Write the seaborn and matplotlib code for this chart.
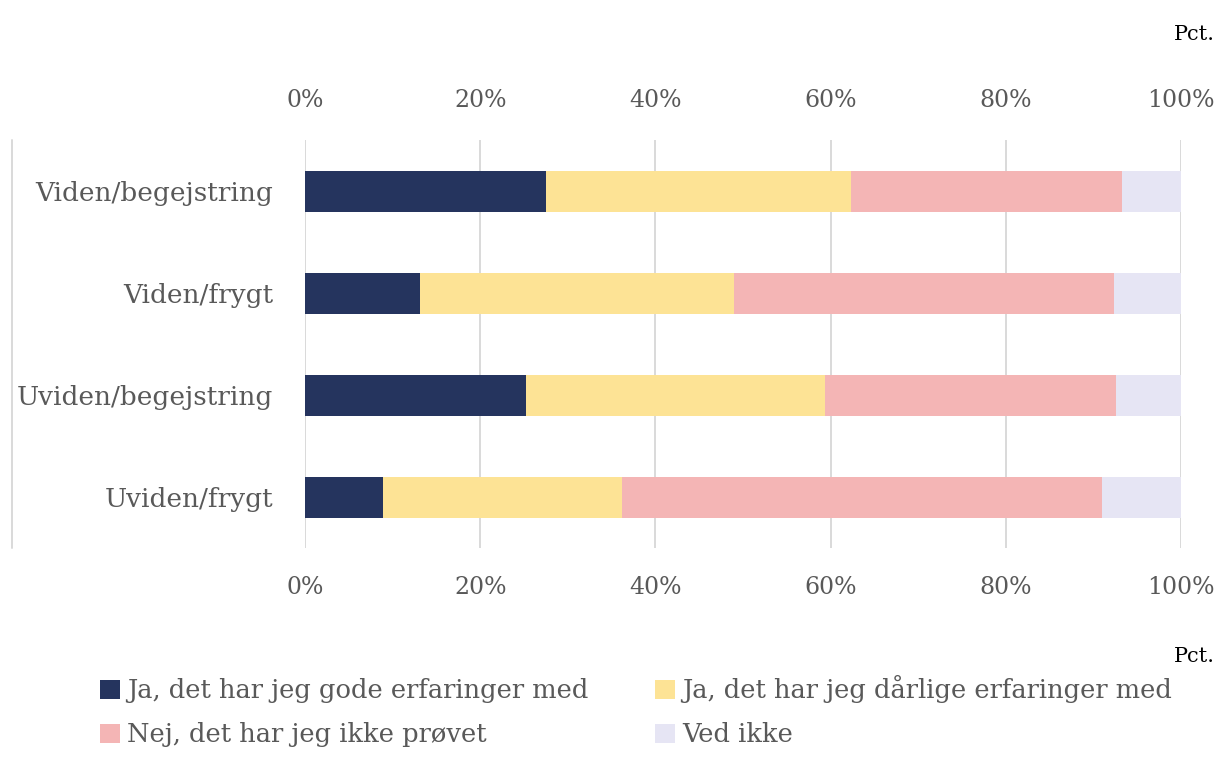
import matplotlib

matplotlib.use("Agg")

import numpy as np
import pandas as pd
import matplotlib.pyplot as plt
import seaborn as sns
from matplotlib.lines import Line2D
from matplotlib.patches import Patch

# data (percent)
groups = ["Viden/begejstring", "Viden/frygt", "Uviden/begejstring", "Uviden/frygt"]
answers = [
    "Ja, det har jeg gode erfaringer med",
    "Ja, det har jeg dårlige erfaringer med",
    "Nej, det har jeg ikke prøvet",
    "Ved ikke",
]
good = [27.5, 13.1, 25.2, 8.9]
bad = [34.8, 35.9, 34.2, 27.3]
not_tried = [31.0, 43.4, 33.2, 54.8]
dont_know = [6.7, 7.6, 7.4, 9.0]
colors = ["#25345e", "#fde395", "#f4b5b5", "#e6e5f4"]
ticks = [0, 20, 40, 60, 80, 100]

sns.set_theme(style="white")
plt.rcParams["font.family"] = ["DejaVu Serif"]
text_col = "#595959"

df = pd.DataFrame(
    {"group": groups, answers[0]: good, answers[1]: bad,
     answers[2]: not_tried, answers[3]: dont_know}
)
cum = df[answers].cumsum(axis=1)

fig = plt.figure(figsize=(12.25, 7.83), dpi=100)
ax = fig.add_axes([0.249, 0.300, 0.715, 0.521])

# stacked bars: draw cumulative totals from the outside in
for i in range(len(answers) - 1, -1, -1):
    sns.barplot(
        x=cum[answers[i]], y=df["group"], orient="h",
        color=colors[i], saturation=1, width=0.4, linewidth=0, ax=ax,
    )

ax.set_xlim(0, 100)
ax.set_ylim(3.5, -0.5)
ax.set_xticks(ticks)
ax.set_xticklabels([f"{t}%" for t in ticks])
ax.set_xlabel("")
ax.set_ylabel("")
ax.grid(axis="x", color="#d9d9d9", linewidth=1.4)
ax.set_axisbelow(True)
for s in ax.spines.values():
    s.set_visible(False)
ax.tick_params(axis="x", length=0, labeltop=True, labelbottom=True,
               labelsize=17, colors=text_col, pad=20)
ax.tick_params(axis="y", length=0, labelsize=19, colors=text_col, pad=23)

# thin left border line
fig.add_artist(Line2D([12 / 1225, 12 / 1225], [1 - 140 / 783, 1 - 548 / 783],
                      color="#d9d9d9", linewidth=1.4))

fig.text(0.992, 1 - 35 / 783, "Pct.", ha="right", va="center", fontsize=15, color="black")
fig.text(0.992, 1 - 657 / 783, "Pct.", ha="right", va="center", fontsize=15, color="black")

# legend fills by column, so reorder to read row-wise like the original
order = [0, 2, 1, 3]
handles = [Patch(facecolor=colors[i], edgecolor="none") for i in order]
labels = [answers[i] for i in order]
fig.legend(
    handles, labels, ncol=2, loc="upper left", bbox_to_anchor=(0.063, 1 - 652 / 783),
    frameon=False, fontsize=18.5, handlelength=0.75, handleheight=0.75,
    handletextpad=0.3, columnspacing=2.6, labelspacing=0.75, labelcolor=text_col,
)

fig.savefig("out.png", dpi=100)
